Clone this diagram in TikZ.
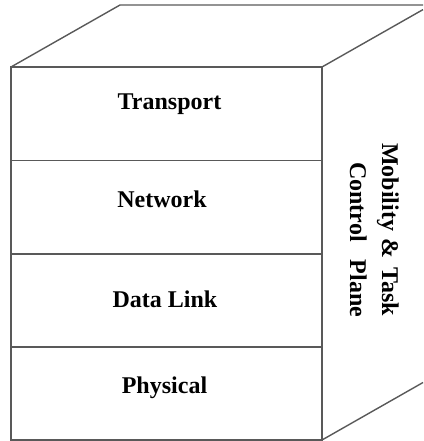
\documentclass[tikz,border=0pt]{standalone}
\usepackage{fontspec}
\setmainfont{Liberation Serif}

\tikzset{
  edge/.style={draw=black!65, line width=1.4pt},
  layertext/.style={font=\fontsize{24}{28}\selectfont\bfseries, inner sep=0pt, anchor=base},
  sidetext/.style={font=\fontsize{24}{28}\selectfont\bfseries, inner sep=0pt, anchor=base west, rotate=270}
}

\begin{document}
\begin{tikzpicture}[x=1pt,y=1pt]
  \useasboundingbox (0,0) rectangle (423,-441);

  % Corners of the box (the back edge runs off the right side):
  \coordinate (ftl) at (11,-67);
  \coordinate (ftr) at (322,-67);
  \coordinate (fbl) at (11,-440);
  \coordinate (fbr) at (322,-440);
  \coordinate (btl) at (120,-5);
  \coordinate (btr) at (423,-5);
  \coordinate (bbr) at (423,-382.5);
  \coordinate (btc) at (423,-9.6);

  \begin{scope}[edge]
    % Front face, top face and right face:
    \draw (ftl) rectangle (fbr);
    \draw (ftl) -- (btl) -- (btr);
    \draw (ftr) -- (btc);
    \draw (fbr) -- (bbr);

    % Layer dividers:
    \foreach \y in {-160.5,-254,-347}{
      \draw (11,\y) -- (322,\y);
    }
  \end{scope}

  % Layer names:
  \foreach \name/\x/\y/\txt in {transport/169.5/-110/Transport, network/162/-207/Network,
                                datalink/165/-307/Data Link, physical/164.5/-393/Physical}{
    \node[layertext] (\name) at (\x,\y) {\txt};
  }

  % Side face:
  \node[sidetext] (mobility) at (382,-143) {Mobility\hspace{7pt}\&\hspace{3pt} Task};
  \node[sidetext] (control) at (350,-162) {Control\hspace{12pt} Plane};
\end{tikzpicture}
\end{document}
